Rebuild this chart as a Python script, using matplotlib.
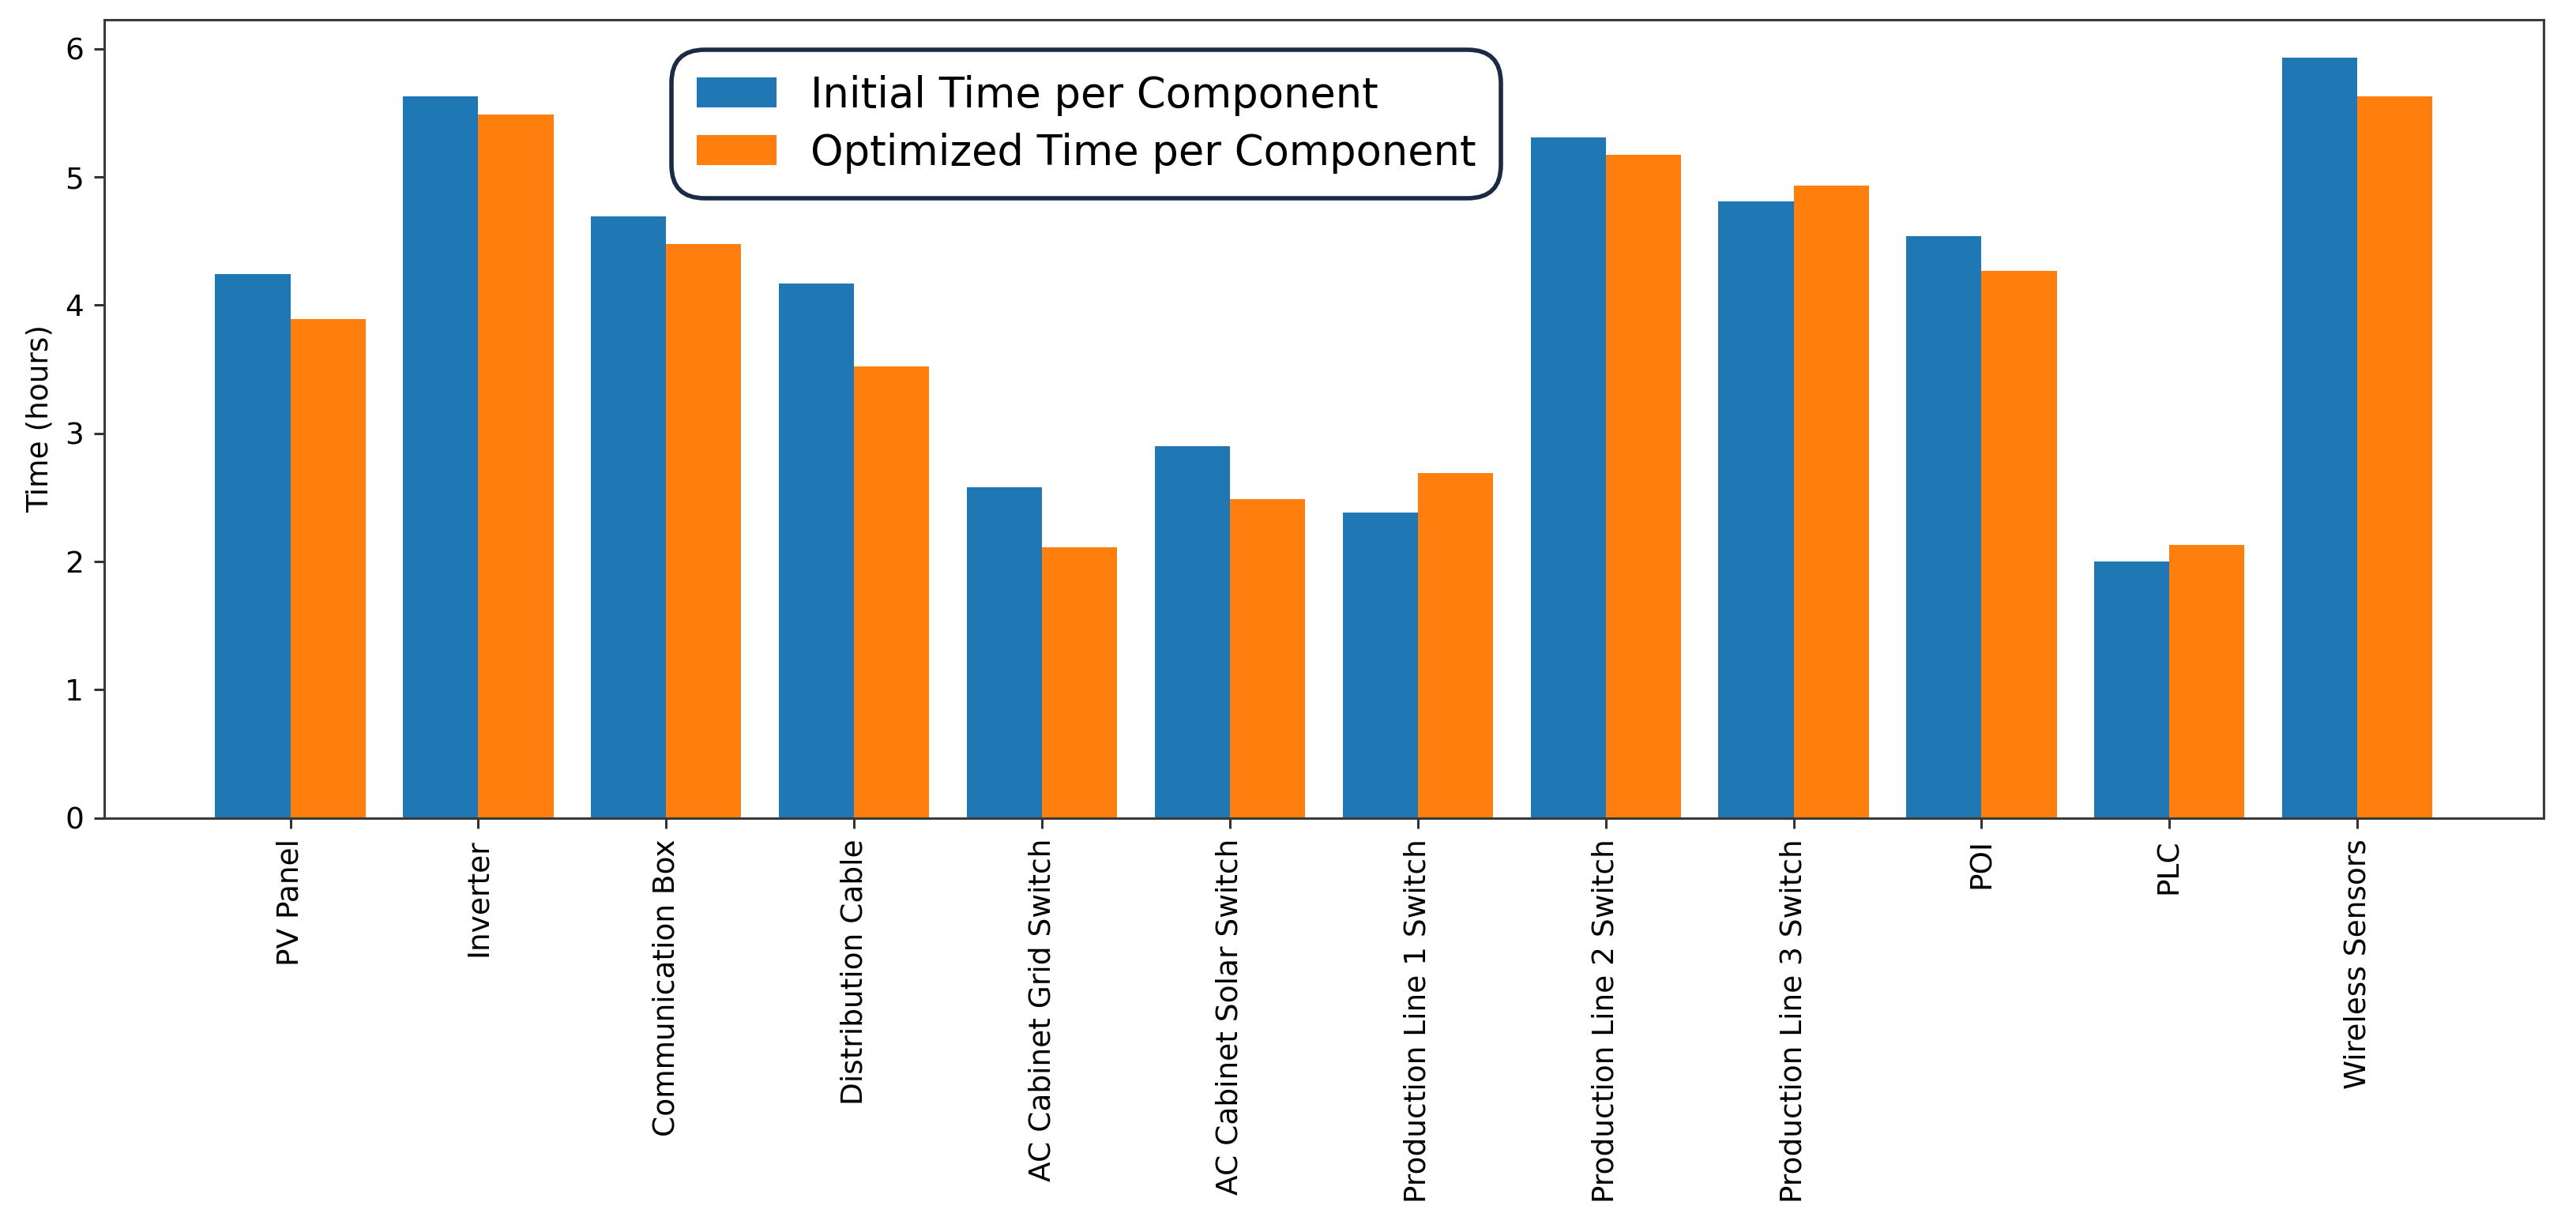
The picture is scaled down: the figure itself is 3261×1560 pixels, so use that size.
### Import Libraries -------------------------------------------------------

import matplotlib.pyplot as plt
import numpy as np

### Data ---------------------------------------------------------------------

components = [
    "PV Panel",
    "Inverter",
    "Communication Box",
    "Distribution Cable",
    "AC Cabinet Grid Switch",
    "AC Cabinet Solar Switch",
    "Production Line 1 Switch",
    "Production Line 2 Switch",
    "Production Line 3 Switch",
    "POI",
    "PLC",
    "Wireless Sensors",
]
initial_time = [4.24, 5.63, 4.69, 4.17, 2.58, 2.90, 2.38, 5.31, 4.81, 4.54, 2.00, 5.93]
optimized_time = [3.89, 5.49, 4.48, 3.52, 2.11, 2.49, 2.69, 5.17, 4.93, 4.27, 2.13, 5.63]

### Plot ---------------------------------------------------------------------

fig = plt.figure(figsize=(16.31, 7.8), dpi=200)
ax = fig.add_axes([0.0405, 0.336, 0.9465, 0.648])

x = np.arange(len(components))
width = 0.4
ax.bar(x - width / 2, initial_time, width, color="#1f77b4", label="Initial Time per Component")
ax.bar(x + width / 2, optimized_time, width, color="#ff7f0e", label="Optimized Time per Component")

ax.set_xticks(x)
ax.set_xticklabels(components, rotation=90, fontsize=13.5)
ax.tick_params(axis="y", labelsize=13.5)
ax.tick_params(length=4.7, width=1.1, pad=4.7, color="#333333")
ax.set_ylabel("Time (hours)", fontsize=13.5, labelpad=5)
for s in ax.spines.values():
    s.set_linewidth(1.1)
    s.set_color("#3a3a3a")

# legend with rounded dark frame
leg = ax.legend(
    loc="upper left",
    bbox_to_anchor=(0.2325, 0.9624),
    borderaxespad=0,
    fontsize=19,
    fancybox=True,
    framealpha=1,
    handlelength=1.93,
    handleheight=0.72,
    handletextpad=0.8,
    borderpad=0.6,
    labelspacing=0.4,
)
frame = leg.get_frame()
frame.set_edgecolor("#1b2a45")
frame.set_linewidth(2.0)
frame.set_boxstyle("round,pad=0,rounding_size=0.8")

fig.savefig("out.png", dpi=200)
